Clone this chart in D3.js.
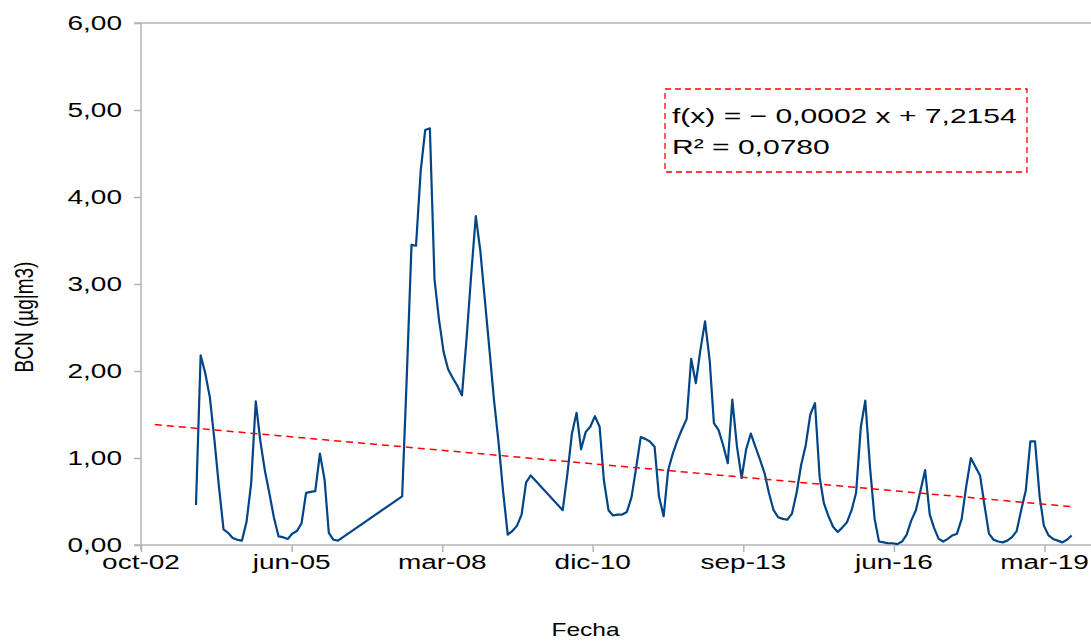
<!DOCTYPE html>
<html>
<head>
<meta charset="utf-8">
<script src="https://cdn.jsdelivr.net/npm/d3@7"></script>
<style>
  body { margin: 0; background: #fff; }
  svg { display: block; }
  text { font-family: "Liberation Sans", Arial, sans-serif; fill: #000; }
</style>
</head>
<body>
<svg id="chart" width="1091" height="644"></svg>
<script>
// Monthly BCN concentration (µg/m3), stored as three continuous stretches of records
const tramo1Inicio = "2003-10";
const tramo1 = [0.46, 2.18, 1.98, 1.70, 1.20, 0.68, 0.18, 0.14, 0.08, 0.06, 0.05, 0.27,
                0.70, 1.65, 1.20, 0.85, 0.58, 0.32, 0.10, 0.09, 0.07, 0.13, 0.16, 0.25,
                0.60, 0.61, 0.62, 1.05, 0.75, 0.14, 0.06, 0.05];

const tramo2Inicio = "2007-07";
const tramo2 = [0.56, 1.95, 3.45, 3.44, 4.30, 4.77, 4.79, 3.05, 2.60, 2.22, 2.02, 1.92,
                1.83, 1.72, 2.38, 3.10, 3.78, 3.38, 2.80, 2.22, 1.68, 1.18, 0.62, 0.12,
                0.16, 0.22, 0.35, 0.72, 0.80];

const tramo3Inicio = "2010-06";
const tramo3 = [0.40, 0.80, 1.28, 1.52, 1.10, 1.30, 1.36, 1.48, 1.36, 0.75, 0.40, 0.34,
                0.35, 0.35, 0.38, 0.55, 0.88, 1.24, 1.22, 1.19, 1.13, 0.56, 0.33, 0.86,
                1.05, 1.20, 1.33, 1.45, 2.14, 1.86, 2.24, 2.57, 2.12, 1.40, 1.32, 1.15,
                0.94, 1.67, 1.13, 0.77, 1.10, 1.28, 1.13, 0.98, 0.82, 0.60, 0.40, 0.32,
                0.30, 0.29, 0.36, 0.60, 0.92, 1.15, 1.50, 1.63, 0.78, 0.48, 0.33, 0.21,
                0.15, 0.20, 0.26, 0.40, 0.60, 1.35, 1.66, 0.90, 0.30, 0.04, 0.03, 0.02,
                0.02, 0.01, 0.04, 0.12, 0.28, 0.40, 0.62, 0.86, 0.35, 0.20, 0.07, 0.04,
                0.07, 0.11, 0.13, 0.30, 0.67, 1.00, 0.90, 0.80, 0.44, 0.13, 0.06, 0.04,
                0.03, 0.05, 0.09, 0.16, 0.40, 0.63, 1.19, 1.19, 0.55, 0.22, 0.11, 0.07,
                0.05, 0.03, 0.06, 0.11];

// Linear trend fitted on spreadsheet date serials (days since 1899-12-30)
const tendenciaPendiente = -0.000155;
const tendenciaOrdenada = 7.2154;
const tendenciaR2 = 0.0780;
const tendenciaInicio = "2003-01-01";

// Axes
const xDominio = ["2002-10-01", "2020-01-01"];
const xTicks = ["2002-10-01", "2005-06-27", "2008-03-23", "2010-12-17",
                "2013-09-12", "2016-06-08", "2019-03-05"];
const yDominio = [0, 6];
const yTicks = [0, 1, 2, 3, 4, 5, 6];
const tituloX = "Fecha";
const tituloY = "BCN (µg|m3)";

// ---------------------------------------------------------------------------
const margin = { left: 141, right: 1090, top: 23, bottom: 545 };
const stretch = 1.4;   // horizontal widening applied to all lettering

const es = d3.timeFormatLocale({
  dateTime: "%A, %e de %B de %Y, %X", date: "%d/%m/%Y", time: "%H:%M:%S",
  periods: ["AM", "PM"],
  days: ["domingo","lunes","martes","miércoles","jueves","viernes","sábado"],
  shortDays: ["dom","lun","mar","mié","jue","vie","sáb"],
  months: ["enero","febrero","marzo","abril","mayo","junio","julio","agosto",
           "septiembre","octubre","noviembre","diciembre"],
  shortMonths: ["ene","feb","mar","abr","may","jun","jul","ago","sep","oct","nov","dic"]
});
const num = d3.formatLocale({ decimal: ",", thousands: ".", grouping: [3], currency: ["", " €"] });
const fmtTick = es.utcFormat("%b-%y");
const fmt2 = num.format(".2f");
const fmt4 = num.format(".4f");

const parseMes = d3.utcParse("%Y-%m");
const parseDia = d3.utcParse("%Y-%m-%d");
const serial = d => (d - Date.UTC(1899, 11, 30)) / 864e5;

function tramo(inicio, valores) {
  const t0 = parseMes(inicio);
  return valores.map((v, i) => ({ fecha: d3.utcMonth.offset(t0, i), valor: v }));
}
const serie = [].concat(tramo(tramo1Inicio, tramo1), tramo(tramo2Inicio, tramo2), tramo(tramo3Inicio, tramo3));

const x = d3.scaleUtc().domain(xDominio.map(parseDia)).range([margin.left, margin.right]);
const y = d3.scaleLinear().domain(yDominio).range([margin.bottom, margin.top]);

const svg = d3.select("#chart");
const axisColor = "#b3b3b3";

// frame: top edge, left axis, bottom axis
svg.append("line").attr("x1", margin.left - 7).attr("x2", 1091)
  .attr("y1", y(6)).attr("y2", y(6)).attr("stroke", axisColor).attr("stroke-width", 1.5);

const yAxis = svg.append("g").attr("transform", `translate(${margin.left},0)`)
  .call(d3.axisLeft(y).tickValues(yTicks).tickSize(7).tickFormat(""));
const xAxis = svg.append("g").attr("transform", `translate(0,${margin.bottom})`)
  .call(d3.axisBottom(x).tickValues(xTicks.map(parseDia)).tickSize(7).tickFormat(""));
[yAxis, xAxis].forEach(g => {
  g.select(".domain").remove();
  g.selectAll(".tick line").attr("stroke", axisColor).attr("stroke-width", 1.5);
});
svg.append("line").attr("x1", margin.left).attr("x2", margin.left)
  .attr("y1", margin.top).attr("y2", margin.bottom + 5)
  .attr("stroke", axisColor).attr("stroke-width", 1.5);
svg.append("line").attr("x1", margin.left - 7).attr("x2", 1091)
  .attr("y1", margin.bottom).attr("y2", margin.bottom)
  .attr("stroke", axisColor).attr("stroke-width", 1.5);

// tick labels
svg.append("g").selectAll("text").data(yTicks).join("text")
  .attr("transform", d => `translate(${margin.left - 19},${y(d)}) scale(${stretch},1)`)
  .attr("text-anchor", "end").attr("dominant-baseline", "central")
  .attr("font-size", 20).text(d => fmt2(d));

svg.append("g").selectAll("text").data(xTicks.map(parseDia)).join("text")
  .attr("transform", d => `translate(${x(d)},${margin.bottom + 10}) scale(${stretch},1)`)
  .attr("text-anchor", "middle").attr("dominant-baseline", "hanging")
  .attr("font-size", 20).text(d => fmtTick(d));

// axis titles
svg.append("text")
  .attr("transform", `translate(${(margin.left + margin.right) / 2 - 30},630) scale(${stretch},1)`)
  .attr("text-anchor", "middle").attr("dominant-baseline", "central")
  .attr("font-size", 17.5).text(tituloX);
svg.append("text")
  .attr("transform", `translate(24,317) scale(${stretch},1) rotate(-90)`)
  .attr("text-anchor", "middle").attr("dominant-baseline", "central")
  .attr("font-size", 19).text(tituloY);

// data line
svg.append("path").datum(serie)
  .attr("fill", "none").attr("stroke", "#004586").attr("stroke-width", 2.2)
  .attr("stroke-linejoin", "round")
  .attr("d", d3.line().x(d => x(d.fecha)).y(d => y(d.valor)));

// linear trend
const tend = [parseDia(tendenciaInicio), serie[serie.length - 1].fecha]
  .map(f => ({ fecha: f, valor: tendenciaOrdenada + tendenciaPendiente * serial(f) }));
svg.append("path").datum(tend)
  .attr("fill", "none").attr("stroke", "#ff0000").attr("stroke-width", 1.5)
  .attr("stroke-dasharray", "7,5")
  .attr("d", d3.line().x(d => x(d.fecha)).y(d => y(d.valor)));

// trend equation box
const box = svg.append("g");
box.append("rect").attr("x", 665).attr("y", 89).attr("width", 362).attr("height", 83)
  .attr("fill", "#fff").attr("stroke", "#ff0000").attr("stroke-width", 1.3)
  .attr("stroke-dasharray", "6,4");
const signo = tendenciaPendiente < 0 ? "−" : "+";
box.append("text")
  .attr("transform", `translate(672,116) scale(1.43,1)`)
  .attr("dominant-baseline", "central").attr("font-size", 21)
  .text(`f(x) = ${signo} ${fmt4(Math.abs(tendenciaPendiente))} x + ${fmt4(tendenciaOrdenada)}`);
box.append("text")
  .attr("transform", `translate(672,147) scale(1.43,1)`)
  .attr("dominant-baseline", "central").attr("font-size", 21)
  .text(`R² = ${fmt4(tendenciaR2)}`);
</script>
</body>
</html>
